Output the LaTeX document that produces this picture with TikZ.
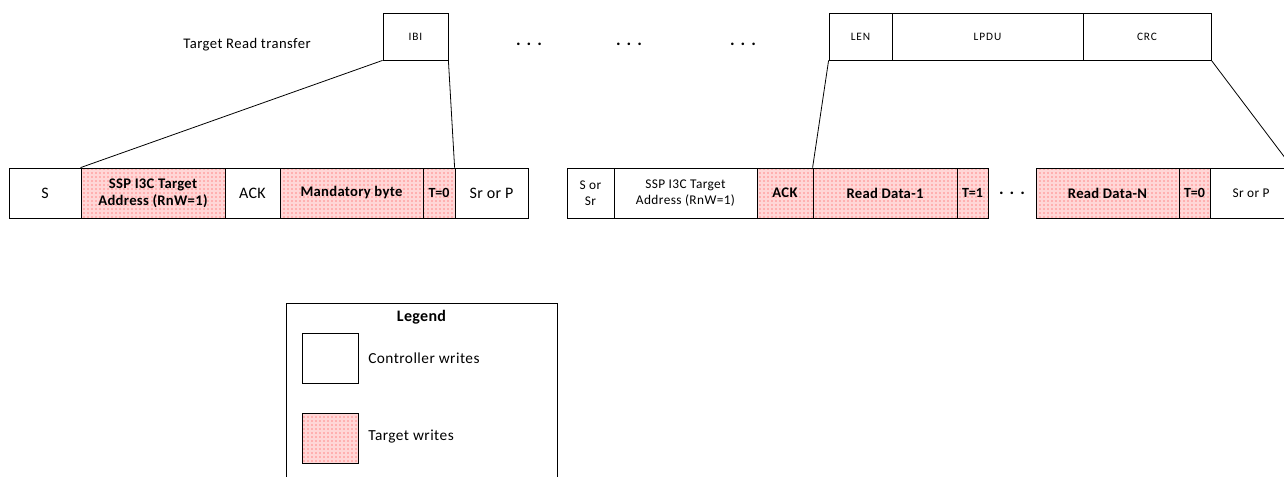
\documentclass[tikz,border=0pt]{standalone}
\usepackage{fontspec}
\setmainfont{Carlito}
\usepackage{tikz}
\usetikzlibrary{patterns}
\newdimen\px \px=0.75pt
\newcommand{\wide}[1]{\addfontfeature{LetterSpace=#1}}
\newcommand{\gapdots}{.\hspace{4.5pt}.\hspace{4.5pt}.}
\tikzset{
    field/.style={
        draw,
        line width=0.6pt,
        minimum height=50\px,
        inner sep=0pt,
        align=center,
        font=\fontsize{12}{13}\selectfont\wide{2}
    },
    ctrl/.style={field, fill=white},
    tgt/.style={
        field,
        preaction={fill=red!16},
        pattern=dots,
        pattern color=red!80,
        font=\fontsize{11}{12.5}\selectfont\bfseries\wide{2}
    },
    small/.style={font=\fontsize{10}{12}\selectfont\wide{3}},
    head/.style={field, minimum height=47\px, font=\fontsize{8.5}{10}\selectfont\wide{8}},
    gap/.style={font=\fontsize{13}{14}\selectfont\bfseries},
    zoomline/.style={line width=0.6pt}
}
\begin{document}
\begin{tikzpicture}[x=0.75pt, y=-0.75pt]
    \useasboundingbox (0,0) rectangle (1284,477);
    % Header fields
    \node[font=\fontsize{11}{12}\selectfont\wide{3}] (title) at (247,45) {Target Read transfer};
    \node[head, minimum width=65\px] (ibi) at (415.5,36.5) {IBI};
    \node[gap] (dotsa) at (529,44) {\gapdots};
    \node[gap] (dotsb) at (629,44) {\gapdots};
    \node[gap] (dotsc) at (743,44) {\gapdots};
    \node[head, minimum width=63\px] (len) at (860.5,36.5) {LEN};
    \node[head, minimum width=191\px] (lpdu) at (987.5,36.5) {LPDU};
    \node[head, minimum width=128\px] (crc) at (1147,36.5) {CRC};

    % IBI frame
    \node[ctrl, minimum width=72\px] (s) at (45,193) {S};
    \node[tgt, minimum width=144\px] (addr) at (153,193) {SSP I3C Target\\Address (RnW=1)};
    \node[ctrl, minimum width=55\px] (acka) at (252.5,193) {ACK};
    \node[tgt, minimum width=143\px] (mand) at (351.5,193) {Mandatory byte};
    \node[tgt, minimum width=32\px, font=\fontsize{10.5}{12}\selectfont\bfseries] (tza) at (439,193) {T=0};
    \node[ctrl, minimum width=73\px] (srpa) at (491.5,193) {Sr or P};

    % Read frame
    \node[ctrl, small, minimum width=47\px] (sors) at (590.5,193) {S or\\Sr};
    \node[ctrl, small, minimum width=143\px] (addrb) at (685.5,193) {SSP I3C Target\\Address (RnW=1)};
    \node[tgt, minimum width=56\px] (ackb) at (785,193) {ACK};
    \node[tgt, minimum width=144\px] (rdone) at (885,193) {Read Data-1};
    \node[tgt, minimum width=31\px, font=\fontsize{10.5}{12}\selectfont\bfseries] (tone) at (972.5,193) {T=1};
    \node[gap] (dotsd) at (1012,193) {\gapdots};
    \node[tgt, minimum width=143\px] (rdn) at (1107.5,193) {Read Data-N};
    \node[tgt, minimum width=31\px, font=\fontsize{10.5}{12}\selectfont\bfseries] (tzb) at (1194.5,193) {T=0};
    \node[ctrl, small, minimum width=82\px] (srpb) at (1251,193) {Sr or P};

    % Zoom lines
    \draw[zoomline] (ibi.south west) -- (addr.north west);
    \draw[zoomline] (ibi.south east) -- (srpa.north west);
    \draw[zoomline] (len.south west) -- (rdone.north west);
    \draw[zoomline] (crc.south east) -- (srpb.north east);

    % Legend
    \node[draw, line width=0.6pt, minimum width=271\px, minimum height=177\px] (legend) at (421.5,391.5) {};
    \node[font=\fontsize{12}{13}\selectfont\bfseries\wide{2}] (legtitle) at (421.5,317) {Legend};
    \node[ctrl, minimum width=56\px] (ctrlkey) at (330,358) {};
    \node[tgt, minimum width=56\px] (tgtkey) at (330,438) {};
    \node[anchor=west, inner sep=0pt, font=\fontsize{11.5}{13}\selectfont\wide{3}] (ctrltext) at (368,358) {Controller writes};
    \node[anchor=west, inner sep=0pt, font=\fontsize{11.5}{13}\selectfont\wide{3}] (tgttext) at (368,437) {Target writes};
\end{tikzpicture}
\end{document}
